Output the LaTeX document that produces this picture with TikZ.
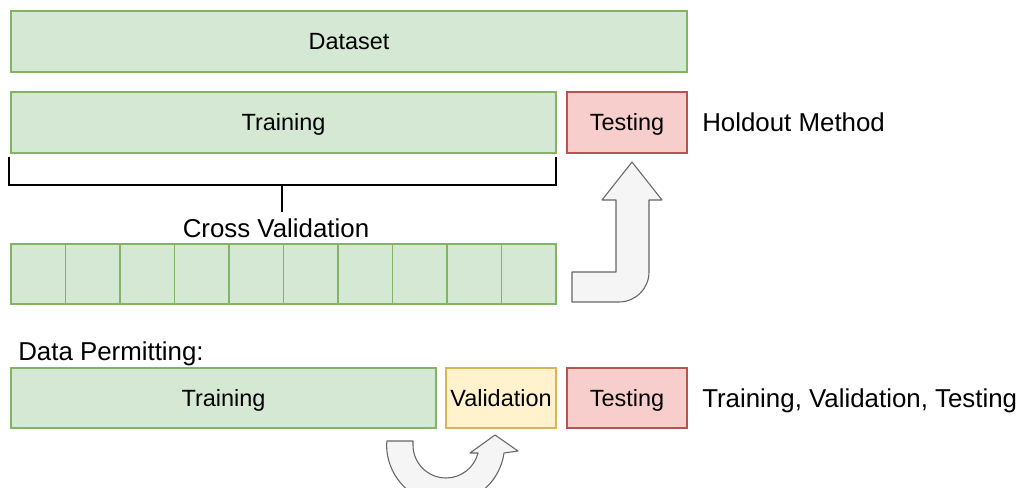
\documentclass[tikz,border=0pt]{standalone}
\usepackage{fontspec}
\setmainfont{Liberation Sans}
\newdimen\pxu \pxu=0.75pt
\definecolor{gfill}{HTML}{D5E8D4}
\definecolor{gline}{HTML}{82B366}
\definecolor{rfill}{HTML}{F8CECC}
\definecolor{rline}{HTML}{B85450}
\definecolor{yfill}{HTML}{FFF2CC}
\definecolor{yline}{HTML}{D6B656}
\definecolor{afill}{HTML}{F5F5F5}
\definecolor{aline}{HTML}{666666}
\begin{document}
\begin{tikzpicture}[x=0.75pt,y=-0.75pt,
  box/.style={inner sep=0pt, line width=0.8pt, text height=12.6pt, text depth=0pt, font=\fontsize{17.6}{20}\selectfont},
  gbox/.style={box, fill=gfill, draw=gline},
  rbox/.style={box, fill=rfill, draw=rline},
  ybox/.style={box, fill=yfill, draw=yline},
  lbl/.style={inner sep=0pt, text height=13.9pt, text depth=0pt, font=\fontsize{19.4}{22}\selectfont},
  bigarrow/.style={fill=afill, draw=aline, line width=0.8pt, line join=round},
  brace/.style={draw=black, line width=1.1pt}]
\useasboundingbox (0,0) rectangle (1027,488);
\clip (0,0) rectangle (1027,488);

% top row
\node[gbox, minimum width=676\pxu, minimum height=61\pxu] (dataset) at (349,41.5) {Dataset};
\node[gbox, minimum width=545\pxu, minimum height=61\pxu] (train1) at (283.5,122.5) {Training};
\node[rbox, minimum width=120\pxu, minimum height=61\pxu] (test1) at (627,122.5) {Testing};
\node[lbl, anchor=west] (holdout) at (702,122.5) {Holdout Method};

% bracket
\coordinate (bl) at (9,157);
\coordinate (blb) at (9,185);
\coordinate (brb) at (556,185);
\coordinate (br) at (556,157);
\coordinate (bm) at (282,185);
\coordinate (bmt) at (282,212);
\draw[brace] (bl) -- (blb) -- (brb) -- (br);
\draw[brace] (bm) -- (bmt);
\node[lbl] (cv) at (276,228) {Cross Validation};

% folds
\foreach \i in {0,...,9} {
  \node[gbox, minimum width=54.5\pxu, minimum height=60\pxu] (fold\i) at ({11+54.5*(\i+0.5)},274) {};
}

% bent arrow
\draw[bigarrow] (572,272) -- (616,272) -- (616,200) -- (602,200) -- (632,162)
  -- (662,200) -- (649,200) -- (649,272) arc[start angle=0, end angle=90, radius=30]
  -- (572,302) -- cycle;

% bottom row
\node[lbl, anchor=west] (dp) at (18,351) {Data Permitting:};
\node[gbox, minimum width=425\pxu, minimum height=60\pxu] (train2) at (223.5,398) {Training};
\node[ybox, minimum width=110\pxu, minimum height=60\pxu] (val) at (501,398) {Validation};
\node[rbox, minimum width=120\pxu, minimum height=60\pxu] (test2) at (627,398) {Testing};
\node[lbl, anchor=west] (tvt) at (702,398) {Training, Validation, Testing};

% U arrow
\draw[bigarrow] (387,441) -- (413,441) -- (413,445)
  arc[start angle=180, end angle=14, radius=33]
  -- (470,453) -- (495,435) -- (518,451) -- (504,453)
  arc[start angle=8, end angle=180, radius=59] -- cycle;
\end{tikzpicture}
\end{document}
